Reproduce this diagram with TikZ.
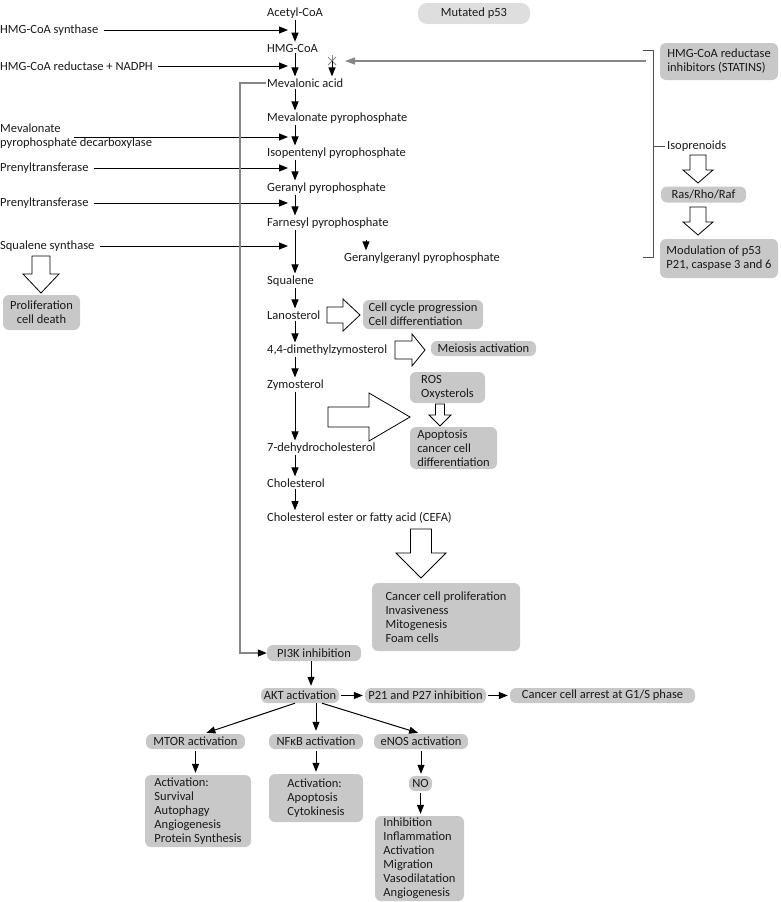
\documentclass[tikz,border=0pt]{standalone}
\usepackage{fontspec}
\setmainfont{Carlito}
\usepackage{tikz}
\usetikzlibrary{positioning, arrows.meta}

\definecolor{boxgray}{RGB}{200,200,200}
\definecolor{palegray}{RGB}{222,222,222}
\definecolor{linegray}{RGB}{135,135,135}
\definecolor{bracketgray}{RGB}{80,80,80}

% hollow block arrows: x, y (start), length, shaft half, head half, head length
\newcommand{\fatdown}[6]{%
  \draw[fat] ({#1-#4},#2) -- ({#1+#4},#2) -- ({#1+#4},{#2+#3-#6}) -- ({#1+#5},{#2+#3-#6})
    -- (#1,{#2+#3}) -- ({#1-#5},{#2+#3-#6}) -- ({#1-#4},{#2+#3-#6}) -- cycle;}
\newcommand{\fatright}[6]{%
  \draw[fat] (#1,{#2-#4}) -- ({#1+#3-#6},{#2-#4}) -- ({#1+#3-#6},{#2-#5}) -- ({#1+#3},#2)
    -- ({#1+#3-#6},{#2+#5}) -- ({#1+#3-#6},{#2+#4}) -- (#1,{#2+#4}) -- cycle;}

\begin{document}
\begin{tikzpicture}[
    x=1pt, y=-1pt,
    every node/.style={font=\fontsize{12.5}{14}\selectfont, text=black!90},
    chem/.style={anchor=west, inner sep=1pt},
    enzyme/.style={anchor=west, inner sep=1pt, align=left},
    box/.style={fill=boxgray, rounded corners=6pt, inner sep=1pt, align=center},
    lbox/.style={box, align=left},
    arrow/.style={-{Triangle[length=9pt,width=7pt]}, line width=1pt, shorten >=1pt},
    enzarrow/.style={arrow, shorten <=4pt, shorten >=0pt},
    looparrow/.style={-{Triangle[length=9pt,width=7pt,color=black]}, linegray, line width=1.3pt},
    statarrow/.style={-{Triangle[length=10pt,width=7pt]}, linegray, line width=1.4pt},
    bracket/.style={bracketgray, line width=0.8pt},
    fat/.style={draw, line width=0.8pt, fill=white}
]
    \useasboundingbox (0,0) rectangle (781,902);

    % Helper columns
    \coordinate (spine) at (295,0);
    \coordinate (entry) at (288,0);
    \coordinate (ggx) at (366,0);

    % Mevalonate pathway
    \node[chem] (acetyl) at (266,13) {Acetyl-CoA};
    \node[chem] (hmgcoa) at (266,48) {HMG-CoA};
    \node[chem] (mevacid) at (266,83) {Mevalonic acid};
    \node[chem] (mevpp) at (266,118) {Mevalonate pyrophosphate};
    \node[chem] (ipp) at (266,153) {Isopentenyl pyrophosphate};
    \node[chem] (gpp) at (266,188) {Geranyl pyrophosphate};
    \node[chem] (fpp) at (266,223) {Farnesyl pyrophosphate};
    \node[chem] (ggpp) at (343,258) {Geranylgeranyl pyrophosphate};
    \node[chem] (squalene) at (266,281) {Squalene};
    \node[chem] (lanost) at (266,315) {Lanosterol};
    \node[chem] (dimethyl) at (266,350) {4,4-dimethylzymosterol};
    \node[chem] (zymost) at (266,385) {Zymosterol};
    \node[chem] (dehydro) at (266,448) {7-dehydrocholesterol};
    \node[chem] (chol) at (266,483) {Cholesterol};
    \node[chem] (cefa) at (266,518) {Cholesterol ester or fatty acid (CEFA)};

    \draw[arrow] (acetyl.south -| spine) -- (hmgcoa.north -| spine);
    \draw[arrow] (hmgcoa.south -| spine) -- (mevacid.north -| spine);
    \draw[arrow] (mevacid.south -| spine) -- (mevpp.north -| spine);
    \draw[arrow] (mevpp.south -| spine) -- (ipp.north -| spine);
    \draw[arrow] (ipp.south -| spine) -- (gpp.north -| spine);
    \draw[arrow] (gpp.south -| spine) -- (fpp.north -| spine);
    \draw[arrow] (fpp.south -| spine) -- (squalene.north -| spine);
    \draw[arrow, shorten <=10pt] (fpp.south -| ggx) -- (ggpp.north -| ggx);
    \draw[arrow] (squalene.south -| spine) -- (lanost.north -| spine);
    \draw[arrow] (lanost.south -| spine) -- (dimethyl.north -| spine);
    \draw[arrow] (dimethyl.south -| spine) -- (zymost.north -| spine);
    \draw[arrow] (zymost.south -| spine) -- (dehydro.north -| spine);
    \draw[arrow] (dehydro.south -| spine) -- (chol.north -| spine);
    \draw[arrow] (chol.south -| spine) -- (cefa.north -| spine);

    % Enzymes
    \node[enzyme] (hmgs) at (-1,30) {HMG-CoA synthase};
    \node[enzyme] (hmgr) at (-1,66) {HMG-CoA reductase + NADPH};
    \node[enzyme] (mpd) at (-1,136) {Mevalonate\\pyrophosphate decarboxylase};
    \node[enzyme] (prenyla) at (-1,168) {Prenyltransferase};
    \node[enzyme] (prenylb) at (-1,203) {Prenyltransferase};
    \node[enzyme] (sqs) at (-1,246) {Squalene synthase};

    \draw[enzarrow] (hmgs) -- (hmgs -| entry);
    \draw[enzarrow] (hmgr) -- (hmgr -| entry);
    \draw[enzarrow, shorten <=0pt] ([xshift=75pt, yshift=-1pt]mpd.west) -- ([yshift=-1pt]mpd.west -| entry);
    \draw[enzarrow] (prenyla) -- (prenyla -| entry);
    \draw[enzarrow] (prenylb) -- (prenylb -| entry);
    \draw[enzarrow] (sqs) -- (sqs -| entry);

    \fatdown{41}{256}{37}{9}{18}{19}
    \node[box, minimum width=77pt, minimum height=35pt] (prolif) at (41.5,312.5) {Proliferation\\cell death};

    % Statins and isoprenoids
    \node[box, fill=palegray, rounded corners=9pt, minimum width=112pt, minimum height=21pt] (p53) at (474,13.5) {Mutated p53};
    \node[lbox, minimum width=118pt, minimum height=37pt] (statins) at (719,61.5) {HMG-CoA reductase\\inhibitors (STATINS)};
    \node[anchor=west, inner sep=2pt] (isopren) at (665,146) {Isoprenoids};
    \node[box, minimum width=85pt, minimum height=16pt] (ras) at (703.5,194.5) {Ras/Rho/Raf};
    \node[lbox, minimum width=118pt, minimum height=39pt] (modul) at (719,258.5) {Modulation of p53\\P21, caspase 3 and 6};

    \coordinate (brtop) at (653,50);
    \coordinate (brbot) at (653,257);
    \draw[bracket] ([xshift=-10pt]brtop) -- (brtop) -- (brbot) -- ([xshift=-10pt]brbot);
    \draw[bracket] (brtop |- isopren.west) -- (isopren.west);
    \fatdown{698}{155}{28}{8}{15}{13}
    \fatdown{698}{207}{28}{8}{15}{13}

    % Inhibited step
    \coordinate (block) at (332,61);
    \draw[linegray, line width=0.8pt] ([shift={(-4,-4)}]block) -- ([shift={(4,4)}]block);
    \draw[linegray, line width=0.8pt] ([shift={(-4,4)}]block) -- ([shift={(4,-4)}]block);
    \draw[linegray, line width=0.8pt] ([shift={(0,-6)}]block) -- ([shift={(0,4)}]block);
    \draw[arrow] (block) -- (block |- mevacid.north);
    \draw[statarrow] ([xshift=-7pt]brtop |- block) -- ([xshift=13pt]block);

    % Sterol effects
    \node[lbox, minimum width=120pt, minimum height=29pt] (cellcyc) at (423,314.5) {Cell cycle progression\\Cell differentiation};
    \node[box, minimum width=105pt, minimum height=15pt] (meiosis) at (483.5,348.5) {Meiosis activation};
    \node[lbox, minimum width=75pt, minimum height=31pt] (ros) at (447.5,387.5) {ROS\\Oxysterols};
    \node[lbox, minimum width=87pt, minimum height=42pt] (apop) at (453.5,448) {Apoptosis\\cancer cell\\differentiation};
    \node[lbox, minimum width=148pt, minimum height=68pt] (cancer) at (446,617) {Cancer cell proliferation\\Invasiveness\\Mitogenesis\\Foam cells};

    \fatright{327}{315}{33}{8}{16}{17}
    \fatright{395}{350}{30}{9}{16}{13}
    \fatright{328}{417}{82}{10}{24}{41}
    \fatdown{440}{404}{22}{4.5}{11}{11}
    \fatdown{421}{529}{49}{10.5}{25}{25}

    % PI3K / AKT signalling
    \node[box, minimum width=94pt, minimum height=16pt] (pi3k) at (314,653) {PI3K inhibition};
    \node[box, minimum width=78pt, minimum height=15pt] (akt) at (300,695.5) {AKT activation};
    \node[box, minimum width=121pt, minimum height=15pt] (p21) at (425.5,695.5) {P21 and P27 inhibition};
    \node[box, minimum width=185pt, minimum height=15pt] (arrest) at (602.5,695.5) {Cancer cell arrest at G1/S phase};
    \node[box, minimum width=99pt, minimum height=15pt] (mtor) at (195.5,741.5) {MTOR activation};
    \node[box, minimum width=94pt, minimum height=15pt] (nfkb) at (316,741.5) {NFκB activation};
    \node[box, minimum width=94pt, minimum height=15pt] (enos) at (421,741.5) {eNOS activation};
    \node[lbox, minimum width=106pt, minimum height=72pt] (act1) at (198,811) {Activation:\\Survival\\Autophagy\\Angiogenesis\\Protein Synthesis};
    \node[lbox, minimum width=94pt, minimum height=48pt] (act2) at (316,798) {Activation:\\Apoptosis\\Cytokinesis};
    \node[box, minimum width=23pt, minimum height=15pt] (no) at (420.5,783.5) {NO};
    \node[lbox, minimum width=89pt, minimum height=85pt] (inh) at (419.5,858.5) {Inhibition\\Inflammation\\Activation\\Migration\\Vasodilatation\\Angiogenesis};

    \draw[looparrow] (mevacid.west) -- ++(-26,0) |- (pi3k.west);
    \draw[arrow, shorten >=2pt] ([xshift=-3pt]pi3k.south) -- ([xshift=-3pt]pi3k.south |- akt.north);
    \draw[arrow, shorten >=2pt, shorten <=2pt] (akt) -- (p21);
    \draw[arrow, shorten >=2pt, shorten <=2pt] (p21) -- (arrest);
    \draw[arrow, shorten >=3pt] ([xshift=-5pt]akt.south) -- ([xshift=8pt]mtor.north);
    \draw[arrow, shorten >=3pt] (nfkb.north |- akt.south) -- (nfkb.north);
    \draw[arrow, shorten >=3pt] ([xshift=22pt]akt.south) -- (enos.north);
    \draw[arrow, shorten >=2pt, shorten <=2pt] (mtor.south) -- (mtor.south |- act1.north);
    \draw[arrow, shorten >=2pt, shorten <=2pt] (nfkb.south) -- (nfkb.south |- act2.north);
    \draw[arrow, shorten >=2pt, shorten <=2pt] (enos.south) -- (enos.south |- no.north);
    \draw[arrow, shorten >=2pt, shorten <=2pt] (no.south) -- (no.south |- inh.north);

\end{tikzpicture}
\end{document}
